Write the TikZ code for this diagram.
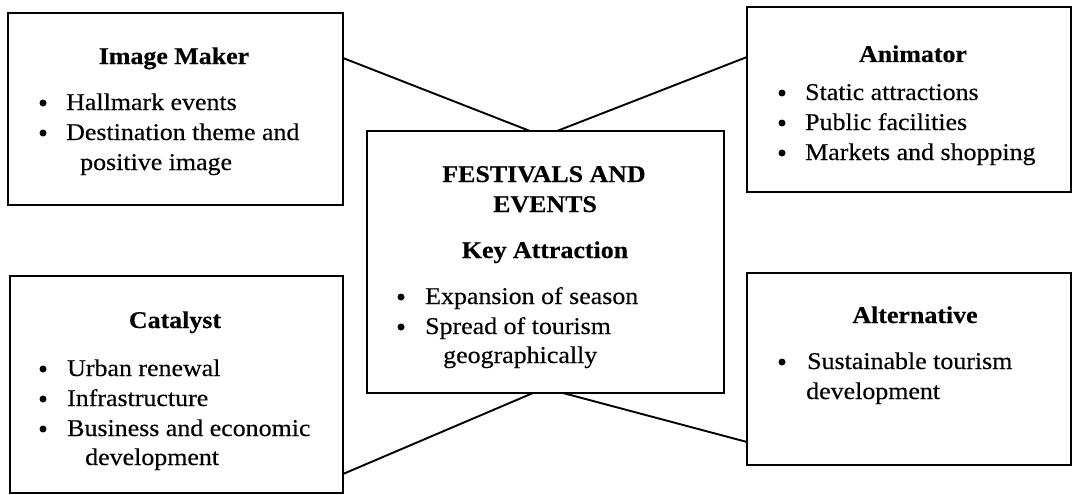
\documentclass[tikz,border=0pt]{standalone}
\usepackage{fontspec}
\setmainfont[FakeStretch=1.08,FakeBold=0.35]{Liberation Serif}
\begin{document}
\begin{tikzpicture}[x=1pt,y=-1pt,
  every node/.style={font=\fontsize{24}{29}\selectfont},
  box/.style={draw, line width=2pt, anchor=north west, inner sep=0pt, outer sep=0pt},
  ttl/.style={font=\fontsize{24}{29}\selectfont\bfseries, anchor=base, inner sep=0pt},
  txt/.style={anchor=base west, inner sep=0pt},
  bul/.style={circle, fill, inner sep=0pt, minimum size=7pt, yshift=7pt},
  link/.style={line width=1.9pt}]
\fill[white] (0,0) rectangle (1073,495);
\useasboundingbox (0,0) rectangle (1073,495);

% boxes
\node[box, minimum width=335pt, minimum height=192pt] (im) at (8,13) {};
\node[box, minimum width=324pt, minimum height=185pt] (an) at (747,7) {};
\node[box, minimum width=357pt, minimum height=262pt] (ce) at (367,131) {};
\node[box, minimum width=333pt, minimum height=217pt] (ca) at (10,276) {};
\node[box, minimum width=324pt, minimum height=192pt] (al) at (747,273) {};

% connectors
\draw[link] ([yshift=-45pt]im.north east) -- ([xshift=163pt]ce.north west);
\draw[link] ([xshift=190pt]ce.north west) -- ([yshift=-50pt]an.north west);
\draw[link] ([xshift=166pt]ce.south west) -- ([yshift=19pt]ca.south east);
\draw[link] ([xshift=196pt]ce.south west) -- ([yshift=23pt]al.south west);

% Image Maker
\node[ttl] (imt) at (174,64) {Image Maker};
\node[bul] (imb1) at (43,110) {};
\node[txt] (im1) at (66,110) {Hallmark events};
\node[bul] (imb2) at (43,140) {};
\node[txt] (im2) at (66,140) {Destination theme and};
\node[txt] (im3) at (80,170) {positive image};

% Animator
\node[ttl] (ant) at (913,62) {Animator};
\node[bul] (anb1) at (782,100) {};
\node[txt] (an1) at (805,100) {Static attractions};
\node[bul] (anb2) at (782,130) {};
\node[txt] (an2) at (805,130) {Public facilities};
\node[bul] (anb3) at (782,160) {};
\node[txt] (an3) at (805,160) {Markets and shopping};

% Centre
\node[ttl] (cet1) at (544,182) {FESTIVALS AND};
\node[ttl] (cet2) at (545,212) {EVENTS};
\node[ttl] (cet3) at (545,258) {Key Attraction};
\node[bul] (ceb1) at (401,304) {};
\node[txt] (ce1) at (425,304) {Expansion of season};
\node[bul] (ceb2) at (401,334) {};
\node[txt] (ce2) at (425,334) {Spread of tourism};
\node[txt] (ce3) at (443,363) {geographically};

% Catalyst
\node[ttl] (cat) at (175,328) {Catalyst};
\node[bul] (cab1) at (43,376) {};
\node[txt] (ca1) at (67,376) {Urban renewal};
\node[bul] (cab2) at (43,406) {};
\node[txt] (ca2) at (67,406) {Infrastructure};
\node[bul] (cab3) at (43,436) {};
\node[txt] (ca3) at (67,436) {Business and economic};
\node[txt] (ca4) at (85,465) {development};

% Alternative
\node[ttl] (alt) at (915,323) {Alternative};
\node[bul] (alb1) at (782,369) {};
\node[txt] (al1) at (807,369) {Sustainable tourism};
\node[txt] (al2) at (806,399) {development};
\end{tikzpicture}
\end{document}
